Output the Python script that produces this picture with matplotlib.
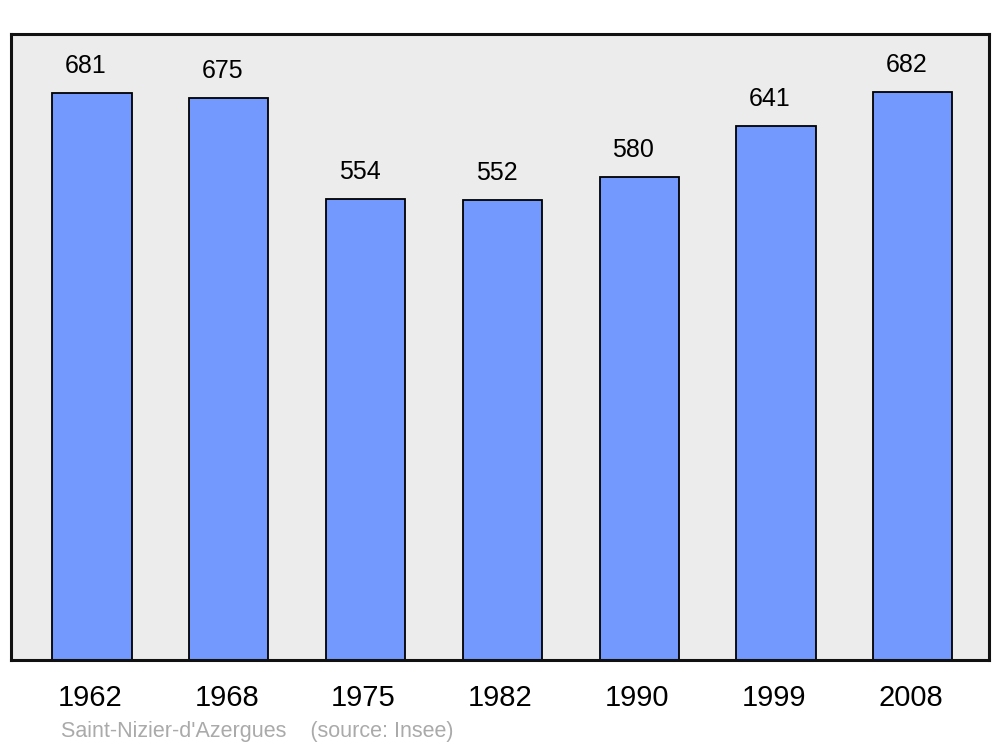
import matplotlib.pyplot as plt

plt.rcParams['font.family'] = ['Liberation Sans', 'DejaVu Sans']

years = ['1962', '1968', '1975', '1982', '1990', '1999', '2008']
population = [681, 675, 554, 552, 580, 641, 682]

fig = plt.figure(figsize=(10, 7.47), dpi=100)
ax = fig.add_axes([0.011, 0.1165, 0.978, 0.838])
ax.set_facecolor('#ececec')

x = list(range(len(years)))
ax.bar(x, population, width=0.578, color='#7399ff', edgecolor='black', linewidth=1.3, zorder=2)

for xi, v in zip(x, population):
    ax.annotate(str(v), (xi, v), xytext=(-6, 15), textcoords='offset pixels',
                ha='center', va='bottom', fontsize=18)

ax.set_xlim(-0.592, 6.557)
ax.set_ylim(0, 752)
ax.set_yticks([])
ax.set_xticks([xi - 0.015 for xi in x])
ax.set_xticklabels(years, fontsize=21)
ax.tick_params(axis='x', length=0, pad=17)

for s in ax.spines.values():
    s.set_linewidth(2.2)
    s.set_color('#111111')

fig.text(0.061, 1 - 737 / 747, "Saint-Nizier-d'Azergues    (source: Insee)",
         fontsize=15.5, color='#aaaaaa', va='baseline')

fig.savefig('out.png', dpi=100)
